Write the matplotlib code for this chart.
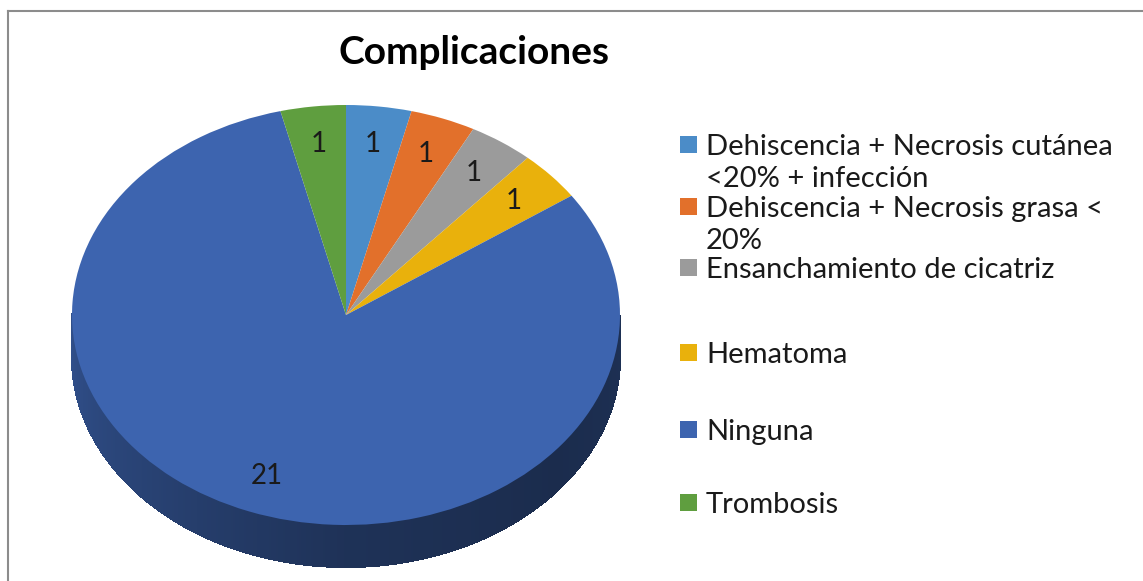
import numpy as np
import matplotlib
matplotlib.use("Agg")
import matplotlib.pyplot as plt
from matplotlib.colors import to_rgb
from matplotlib.collections import PolyCollection
from matplotlib.patches import Rectangle
from matplotlib.lines import Line2D

# ---------- data ----------
categories = ["Dehiscencia + Necrosis cutánea\n<20% + infección",
              "Dehiscencia + Necrosis grasa <\n20%",
              "Ensanchamiento de cicatriz",
              "Hematoma",
              "Ninguna",
              "Trombosis"]
counts = [1, 1, 1, 1, 21, 1]
colors = ["#4B8CC8", "#E2702B", "#9B9B9B", "#E9B10C", "#3D64AF", "#5F9E3F"]

plt.rcParams["font.family"] = ["Lato", "DejaVu Sans"]
W, H = 1143, 581
CX, CY, RX, RY, DEPTH = 346, 315, 274, 210, 42   # pie layout in pixels

fig = plt.figure(figsize=(W / 100, H / 100), dpi=100)
fig.patch.set_facecolor("white")

# pie axes: unit circle squashed to an ellipse by the axis limits
ax = fig.add_axes([0, 0, 1, 1])
total = sum(counts)
wedges, texts, autotexts = ax.pie(
    counts, colors=colors, startangle=90, counterclock=False,
    autopct=lambda p: f"{p * total / 100:.0f}", pctdistance=0.82,
    wedgeprops=dict(linewidth=0, zorder=3),
    textprops=dict(fontsize=20, color="#1a1a1a"))
for t in autotexts:
    t.set_zorder(5)
ax.set_aspect("auto")
ax.set_xlim(-CX / RX, (W - CX) / RX)
ax.set_ylim(-(H - CY) / RY, CY / RY)
ax.axis("off")

# side wall (visible lower half), shaded darker towards the right
d = DEPTH / RY
shade_ang = [180, 230, 270, 320, 360]
shade_fac = [0.80, 0.64, 0.50, 0.44, 0.48]
polys, cols = [], []
for w, c in zip(wedges, colors):
    base = np.array(to_rgb(c))
    angs = np.arange(w.theta1, w.theta2 + 0.5, 0.5)
    for a0, a1 in zip(angs[:-1], angs[1:]):
        am = ((a0 + a1) / 2) % 360
        if am < 180:
            continue
        t0, t1 = np.radians(a0), np.radians(a1)
        polys.append([(np.cos(t0), np.sin(t0)), (np.cos(t1), np.sin(t1)),
                      (np.cos(t1), np.sin(t1) - d), (np.cos(t0), np.sin(t0) - d)])
        cols.append(base * np.interp(am, shade_ang, shade_fac))
ax.add_collection(PolyCollection(polys, facecolors=cols, edgecolors=cols,
                                 linewidths=0.8, antialiased=False, zorder=2))

# overlay axes in pixel coordinates for title, legend and frame
lax = fig.add_axes([0, 0, 1, 1])
lax.set_xlim(0, W)
lax.set_ylim(H, 0)
lax.axis("off")
lax.patch.set_alpha(0)

lax.add_line(Line2D([7.5, W], [10.5, 10.5], color="#8C8C8C", lw=1.5))
lax.add_line(Line2D([7.5, 7.5], [10.5, H], color="#8C8C8C", lw=1.5))

lax.text(474, 52, "Complicaciones", ha="center", va="center",
         fontsize=28, fontweight="bold", color="#000000")

legend_y = [145, 207, 268, 353, 430, 503]
for lab, c, y in zip(categories, colors, legend_y):
    lax.add_patch(Rectangle((680, y - 9), 17, 17, facecolor=c, edgecolor="none"))
    for j, line in enumerate(lab.split("\n")):
        lax.text(706, y + 10 + j * 32, line, ha="left", va="baseline",
                 fontsize=21, color="#1a1a1a")

fig.savefig("out.png", dpi=100, facecolor="white")
